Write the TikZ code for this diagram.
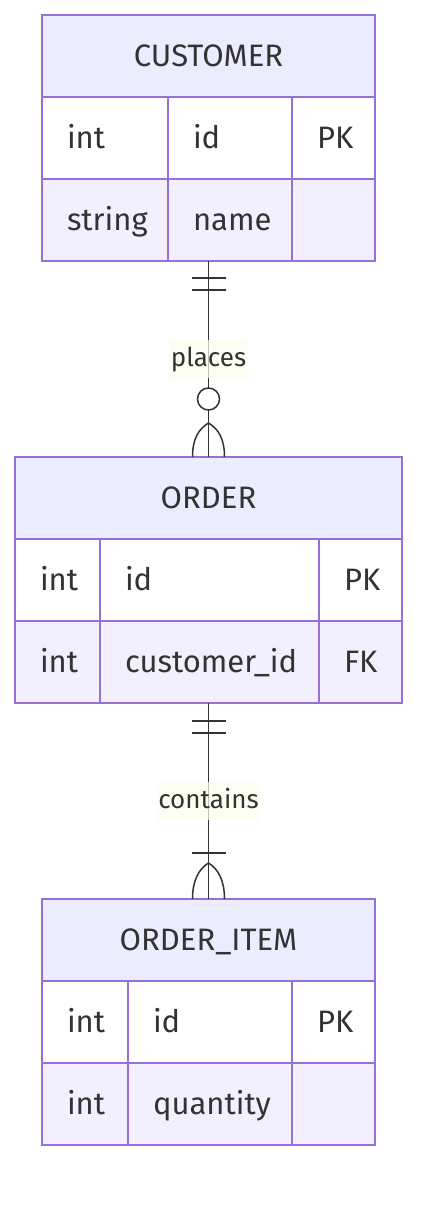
\documentclass[tikz,border=0pt]{standalone}
\usepackage{fontspec}
\setmainfont{Fira Sans}
\usetikzlibrary{positioning}
\definecolor{erline}{HTML}{9370DB}
\definecolor{erhead}{HTML}{ECECFF}
\definecolor{erodd}{HTML}{FFFFFF}
\definecolor{ereven}{HTML}{F2F0FF}
\definecolor{ertext}{HTML}{333333}
\definecolor{labelbg}{HTML}{F9FFEC}
\newcommand{\erfont}{\fontsize{31}{36}\selectfont}
\newcommand{\relfont}{\fontsize{26}{31}\selectfont}
\tikzset{
  enthead/.style={draw=erline, fill=erhead, line width=1.8pt, minimum width=#1, minimum height=82pt,
    inner sep=0pt, outer sep=0pt, anchor=north west, text=ertext, text height=21pt, text depth=0pt, font=\erfont},
  cell/.style={draw=erline, line width=1.8pt, minimum height=82pt, inner xsep=25pt, inner ysep=0pt,
    outer sep=0pt, text width=#1, align=left, text=ertext, text height=21pt, text depth=0pt, font=\erfont},
  rowodd/.style={fill=erodd},
  roweven/.style={fill=ereven},
  relline/.style={draw=ertext, line width=1.5pt},
  rellabel/.style={fill=labelbg, fill opacity=0.7, text opacity=1, text=ertext, inner xsep=1pt,
    inner ysep=7pt, text height=19pt, text depth=5pt, font=\relfont}
}
\begin{document}
\begin{tikzpicture}[x=1pt,y=-1pt]
\useasboundingbox (0,0) rectangle (434,1206);
% CUSTOMER
\node[enthead=333pt] (cust) at (42,15) {CUSTOMER};
\node[cell=76pt, rowodd, anchor=north west] (cust-t1) at (cust.south west) {int};
\node[cell=74pt, rowodd, right=0pt of cust-t1] (cust-n1) {id};
\node[cell=33pt, rowodd, right=0pt of cust-n1] (cust-k1) {PK};
\node[cell=76pt, roweven, anchor=north west] (cust-t2) at (cust-t1.south west) {string};
\node[cell=74pt, roweven, right=0pt of cust-t2] (cust-n2) {name};
\node[cell=33pt, roweven, right=0pt of cust-n2] (cust-k2) {};
% ORDER
\node[enthead=387pt] (ord) at (15,457) {ORDER};
\node[cell=35pt, rowodd, anchor=north west] (ord-t1) at (ord.south west) {int};
\node[cell=169pt, rowodd, right=0pt of ord-t1] (ord-n1) {id};
\node[cell=33pt, rowodd, right=0pt of ord-n1] (ord-k1) {PK};
\node[cell=35pt, roweven, anchor=north west] (ord-t2) at (ord-t1.south west) {int};
\node[cell=169pt, roweven, right=0pt of ord-t2] (ord-n2) {customer\_id};
\node[cell=33pt, roweven, right=0pt of ord-n2] (ord-k2) {FK};
% ORDER_ITEM
\node[enthead=333pt] (item) at (42,899) {ORDER\_ITEM};
\node[cell=36pt, rowodd, anchor=north west] (item-t1) at (item.south west) {int};
\node[cell=114pt, rowodd, right=0pt of item-t1] (item-n1) {id};
\node[cell=33pt, rowodd, right=0pt of item-n1] (item-k1) {PK};
\node[cell=36pt, roweven, anchor=north west] (item-t2) at (item-t1.south west) {int};
\node[cell=114pt, roweven, right=0pt of item-t2] (item-n2) {quantity};
\node[cell=33pt, roweven, right=0pt of item-n2] (item-k2) {};
% relationships
\coordinate (cust-bot) at (cust.south |- cust-t2.south);
\coordinate (ord-bot) at (ord.south |- ord-t2.south);
\draw[relline] (cust-bot) -- node[rellabel] (places) {places} (ord.north);
\draw[relline] (ord-bot) -- node[rellabel] (contains) {contains} (item.north);
% CUSTOMER side: exactly one
\draw[relline] (cust-bot) ++(-17,17) -- ++(34,0) (cust-bot) ++(-17,29) -- ++(34,0);
% ORDER side: zero or many
\draw[relline, fill=white] (ord.north) ++(0,-58) circle[radius=11pt];
\coordinate (ord-cf) at ([yshift=34pt]ord.north);
\draw[relline] (ord-cf) .. controls +(-10,6) and +(0,-18) .. ([xshift=-16pt]ord.north)
  (ord-cf) .. controls +(10,6) and +(0,-18) .. ([xshift=16pt]ord.north);
% ORDER side: exactly one
\draw[relline] (ord-bot) ++(-17,18) -- ++(34,0) (ord-bot) ++(-17,30) -- ++(34,0);
% ORDER_ITEM side: one or many
\draw[relline] (item.north) ++(-17,-46) -- ++(34,0);
\coordinate (item-cf) at ([yshift=36pt]item.north);
\draw[relline] (item-cf) .. controls +(-10,6) and +(0,-18) .. ([xshift=-16pt]item.north)
  (item-cf) .. controls +(10,6) and +(0,-18) .. ([xshift=16pt]item.north);
\end{tikzpicture}
\end{document}
